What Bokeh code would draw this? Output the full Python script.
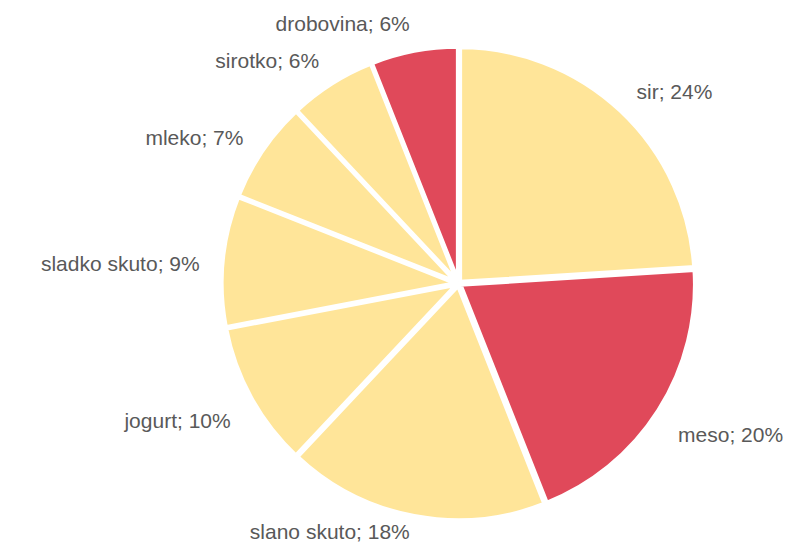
import math
from bokeh.plotting import figure
from bokeh.models import ColumnDataSource, Range1d
from bokeh.core.properties import value
from bokeh.embed import file_html
from bokeh.resources import INLINE

categories = ["sir", "meso", "slano skuto", "jogurt", "sladko skuto", "mleko", "sirotko", "drobovina"]
shares = [24, 20, 18, 10, 9, 7, 6, 6]
colors = ["#FFE599", "#E0495A", "#FFE599", "#FFE599", "#FFE599", "#FFE599", "#FFE599", "#E0495A"]

W, H = 785, 544
cx, cy = 458, H - 283      # pie centre in data units (1 unit = 1 px, y up)
R = 235
explode = 2
label_r = 260
label_dy = -6              # labels sit a little lower than the pie centre

total = float(sum(shares))
starts, ends, xs, ys = [], [], [], []
lx, ly, la, labels = [], [], [], []
a = math.pi / 2
for cat, s in zip(categories, shares):
    span = 2 * math.pi * s / total
    st, en = a - span, a
    mid = (st + en) / 2
    starts.append(st)
    ends.append(en)
    xs.append(cx + explode * math.cos(mid))
    ys.append(cy + explode * math.sin(mid))
    c, sn = math.cos(mid), math.sin(mid)
    lx.append(cx + label_r * c)
    yy = cy + label_dy + (label_r + 11) * sn
    ly.append(min(max(yy, 13), H - 13))
    la.append("left" if c > 0 else "right")
    labels.append(f"{cat}; {round(100 * s / total)}%")
    a = st

src = dict(x=xs, y=ys, start=starts, end=ends, color=colors)

p = figure(width=W, height=H, output_backend="svg", toolbar_location=None,
           x_range=Range1d(0, W), y_range=Range1d(0, H), min_border=0)
p.axis.visible = False
p.grid.visible = False
p.outline_line_color = None
p.background_fill_color = "white"
p.border_fill_color = "white"

p.wedge(x="x", y="y", radius=R, start_angle="start", end_angle="end",
        fill_color="color", line_color="white", line_width=4.5,
        source=ColumnDataSource(src))

lsrc = ColumnDataSource(dict(x=lx, y=ly, text=labels, align=la))
p.text(x="x", y="y", text="text", text_align="align", text_baseline="middle",
       text_font=value("Liberation Sans"), text_font_size="21px",
       text_color="#595959", source=lsrc)

open("out.html", "w").write(file_html(p, INLINE))
